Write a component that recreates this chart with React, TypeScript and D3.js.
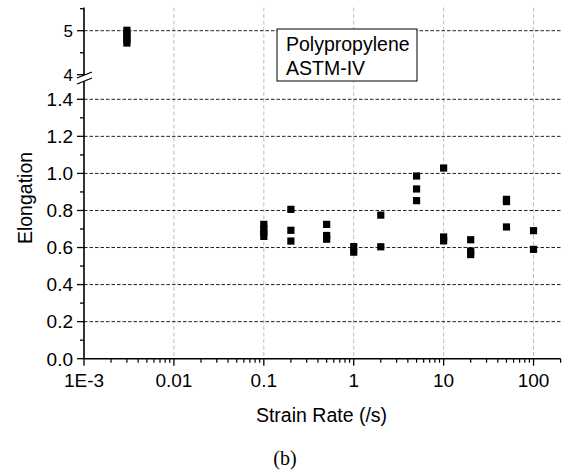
import React from "react";
import * as d3 from "d3";

const strainRate = [
  0.003, 0.003, 0.003, 0.003, 0.003,
  0.1, 0.1, 0.1, 0.1,
  0.2, 0.2, 0.2,
  0.5, 0.5, 0.5,
  1, 1,
  2, 2,
  5, 5, 5,
  10, 10, 10,
  20, 20, 20,
  50, 50, 50,
  100, 100,
];
const elongation = [
  5.01, 4.93, 4.86, 4.79, 4.72,
  0.725, 0.70, 0.68, 0.66,
  0.806, 0.693, 0.635,
  0.725, 0.665, 0.645,
  0.605, 0.575,
  0.775, 0.604,
  0.986, 0.916, 0.853,
  1.029, 0.657, 0.636,
  0.642, 0.581, 0.562,
  0.86, 0.848, 0.711,
  0.691, 0.59,
];

const xMajorTicks = [1e-3, 0.01, 0.1, 1, 10, 100];
const xTickLabels = ["1E-3", "0.01", "0.1", "1", "10", "100"];
const yLowTicks = [0, 0.2, 0.4, 0.6, 0.8, 1.0, 1.2, 1.4];
const yLowLabels = ["0.0", "0.2", "0.4", "0.6", "0.8", "1.0", "1.2", "1.4"];
const yUpTicks = [4, 5];
const yUpLabels = ["4", "5"];
const yUpMinor = [4.5, 5.5];
const legendLines = ["Polypropylene", "ASTM-IV"];

const FONT = "'Liberation Sans', Arial, Helvetica, sans-serif";

export default function App() {
  const x = d3.scaleLog().domain([1e-3, 200]).range([84, 560.6]);
  const yLow = d3.scaleLinear().domain([0, 1.4]).range([358.7, 99.3]);
  const yUp = d3.scaleLinear().domain([4, 5]).range([74.7, 30.7]);
  const yOf = (v: number) => (v > 2 ? yUp(v) : yLow(v));

  const axisX = x(1e-3);
  const plotRight = x(200);
  const plotTop = 7.5;
  const baseY = yLow(0);

  const xMinor: number[] = [];
  for (let d = -3; d <= 2; d++) {
    for (let k = 2; k <= 9; k++) {
      const v = k * Math.pow(10, d);
      if (v <= 200.0001) xMinor.push(v);
    }
  }
  const yLowMinor = d3.range(0.1, 1.4, 0.2);

  const sq = 7.2;

  return (
    <svg
      width={565}
      height={475}
      style={{ position: "absolute", left: 0, top: 0, background: "#fff" }}
      fontFamily={FONT}
    >
      <rect x={0} y={0} width={565} height={475} fill="#fff" />
      {/* vertical grid */}
      {xMajorTicks.slice(1).map((t) => (
        <line
          key={"vg" + t}
          x1={x(t)}
          x2={x(t)}
          y1={plotTop}
          y2={baseY}
          stroke="#bdbdbd"
          strokeWidth={1}
          strokeDasharray="4,2.5"
        />
      ))}
      {/* horizontal grid */}
      {yLowTicks.slice(1).map((t) => (
        <line
          key={"hg" + t}
          x1={axisX}
          x2={plotRight}
          y1={yLow(t)}
          y2={yLow(t)}
          stroke="#222"
          strokeWidth={1}
          strokeDasharray="3.5,2"
        />
      ))}
      <line
        x1={axisX}
        x2={plotRight}
        y1={yUp(5)}
        y2={yUp(5)}
        stroke="#222"
        strokeWidth={1}
        strokeDasharray="3.5,2"
      />

      {/* legend box */}
      <rect x={277} y={29} width={140} height={52} fill="#fff" stroke="#000" strokeWidth={1} />
      {legendLines.map((s, i) => (
        <text key={s} x={286} y={51 + i * 24} fontSize={19.5} fill="#000">
          {s}
        </text>
      ))}

      {/* data */}
      {strainRate.map((r, i) => (
        <rect
          key={"p" + i}
          x={x(r) - sq / 2}
          y={yOf(elongation[i]) - sq / 2}
          width={sq}
          height={sq}
          fill="#000"
        />
      ))}

      {/* y axis upper segment */}
      <line x1={axisX} x2={axisX} y1={plotTop} y2={75} stroke="#000" strokeWidth={1.6} />
      {yUpTicks.map((t, i) => (
        <g key={"yu" + t}>
          <line x1={axisX - 7} x2={axisX} y1={yUp(t)} y2={yUp(t)} stroke="#000" strokeWidth={1.3} />
          <text x={73} y={yUp(t)} dy="0.36em" textAnchor="end" fontSize={17}>
            {yUpLabels[i]}
          </text>
        </g>
      ))}
      {yUpMinor.map((t) => (
        <line key={"yum" + t} x1={axisX - 4} x2={axisX} y1={yUp(t)} y2={yUp(t)} stroke="#000" strokeWidth={1.3} />
      ))}
      {/* break marks */}
      <line x1={77} x2={92} y1={78} y2={72} stroke="#000" strokeWidth={1.3} />
      <line x1={77} x2={92} y1={84} y2={78} stroke="#000" strokeWidth={1.3} />

      {/* y axis lower segment */}
      <line x1={axisX} x2={axisX} y1={81} y2={baseY} stroke="#000" strokeWidth={1.6} />
      {yLowTicks.map((t, i) => (
        <g key={"yl" + t}>
          <line x1={axisX - 7} x2={axisX} y1={yLow(t)} y2={yLow(t)} stroke="#000" strokeWidth={1.3} />
          <text x={73} y={yLow(t)} dy="0.36em" textAnchor="end" fontSize={19}>
            {yLowLabels[i]}
          </text>
        </g>
      ))}
      {yLowMinor.map((t) => (
        <line key={"ylm" + t} x1={axisX - 4} x2={axisX} y1={yLow(t)} y2={yLow(t)} stroke="#000" strokeWidth={1.3} />
      ))}

      {/* x axis */}
      <line x1={axisX} x2={plotRight} y1={baseY} y2={baseY} stroke="#000" strokeWidth={1.6} />
      {xMinor.map((t) => (
        <line key={"xm" + t} x1={x(t)} x2={x(t)} y1={baseY} y2={baseY + 4} stroke="#000" strokeWidth={1.2} />
      ))}
      {xMajorTicks.map((t, i) => (
        <g key={"xt" + t}>
          <line x1={x(t)} x2={x(t)} y1={baseY} y2={baseY + 7} stroke="#000" strokeWidth={1.3} />
          <text x={x(t)} y={386.5} textAnchor="middle" fontSize={19}>
            {xTickLabels[i]}
          </text>
        </g>
      ))}

      {/* axis titles */}
      <text x={321.5} y={421.5} textAnchor="middle" fontSize={19.5}>
        Strain Rate (/s)
      </text>
      <text
        transform={`translate(31.5,198) rotate(-90)`}
        textAnchor="middle"
        fontSize={19.5}
      >
        Elongation
      </text>
      <text
        x={285}
        y={465}
        textAnchor="middle"
        fontSize={20}
        fontFamily="'Liberation Serif', 'Times New Roman', serif"
      >
        (b)
      </text>
    </svg>
  );
}
